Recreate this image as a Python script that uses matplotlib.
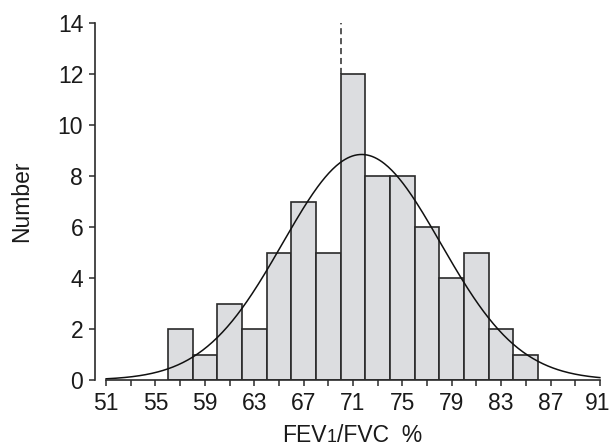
import numpy as np
import matplotlib
matplotlib.use("Agg")
import matplotlib.pyplot as plt
from matplotlib import font_manager
from matplotlib.offsetbox import TextArea, HPacker, AnchoredOffsetbox
import matplotlib.transforms as mtransforms

# ---- data ----
bin_left_edges = [56, 58, 60, 62, 64, 66, 68, 70, 72, 74, 76, 78, 80, 82, 84]
counts = [2, 1, 3, 2, 5, 7, 5, 12, 8, 8, 6, 4, 5, 2, 1]
bin_width = 2
x_ticks = [51, 53, 55, 57, 59, 61, 63, 65, 67, 69, 71, 73, 75, 77, 79, 81, 83, 85, 87, 89, 91]
x_tick_labels = ["51", "", "55", "", "59", "", "63", "", "67", "", "71", "", "75", "", "79", "", "83", "", "87", "", "91"]
y_ticks = [0, 2, 4, 6, 8, 10, 12, 14]
fit_mean = 71.7
fit_sd = 6.4
marker_x = 70

names = {f.name for f in font_manager.fontManager.ttflist}
if "Liberation Sans Narrow" in names:
    FONT = ["Liberation Sans Narrow", "DejaVu Sans"]
    FS, FS_SUB = 18, 14
else:
    FONT = ["Liberation Sans", "DejaVu Sans"]
    FS, FS_SUB = 16.5, 13
plt.rcParams["font.family"] = FONT

fig = plt.figure(figsize=(6.10, 4.48), dpi=100)
ax = fig.add_axes([95 / 610, 68 / 448, (600.5 - 95) / 610, (380 - 23.3) / 448])

dark = "#2a2a2a"
ax.bar(bin_left_edges, counts, width=bin_width, align="edge",
       color="#dcdde0", edgecolor=dark, linewidth=1.2, zorder=2)

n = sum(counts)
xs = np.linspace(51, 91, 400)
ys = n * bin_width / (fit_sd * np.sqrt(2 * np.pi)) * np.exp(-0.5 * ((xs - fit_mean) / fit_sd) ** 2)
ax.plot(xs, ys, color="#111111", linewidth=1.1, zorder=3)

top = counts[bin_left_edges.index(marker_x)]
ax.plot([marker_x, marker_x], [top, 14], color=dark, linewidth=1.1,
        linestyle=(0, (4, 2.5)), zorder=3)

ax.set_xlim(50.1, 91.05)
ax.set_ylim(0, 14)
ax.spines["top"].set_visible(False)
ax.spines["right"].set_visible(False)
for s in ("left", "bottom"):
    ax.spines[s].set_color(dark)
    ax.spines[s].set_linewidth(1.2)
ax.spines["bottom"].set_bounds(51, 91)
ax.spines["bottom"].set_zorder(4)

ax.set_xticks(x_ticks)
ax.set_xticklabels(x_tick_labels)
ax.set_yticks(y_ticks)
ax.tick_params(axis="both", direction="out", length=4.5, width=1.1, color=dark,
               labelsize=FS, labelcolor="#1a1a1a")
ax.tick_params(axis="x", pad=4)
ax.tick_params(axis="y", pad=4)
for lab in ax.get_xticklabels() + ax.get_yticklabels():
    lab.set_family(FONT)
# keep the last x tick label inside the figure
last = ax.get_xticklabels()[-1]
last.set_transform(last.get_transform() + mtransforms.ScaledTranslation(-2 / 100, 0, fig.dpi_scale_trans))

ax.set_ylabel("Number", fontsize=FS, color="#1a1a1a", labelpad=18, family=FONT)

parts = [TextArea("FEV", textprops=dict(fontsize=FS, color="#1a1a1a", family=FONT)),
         TextArea("1", textprops=dict(fontsize=FS_SUB, color="#1a1a1a", family=FONT)),
         TextArea("/FVC  %", textprops=dict(fontsize=FS, color="#1a1a1a", family=FONT))]
box = HPacker(children=parts, align="baseline", pad=0, sep=0)
anch = AnchoredOffsetbox(loc="lower center", child=box, pad=0, frameon=False, borderpad=0)
anch.set_bbox_to_anchor((352 / 610, 1 / 448), transform=fig.transFigure)
fig.add_artist(anch)

fig.savefig("out.png", dpi=100)
